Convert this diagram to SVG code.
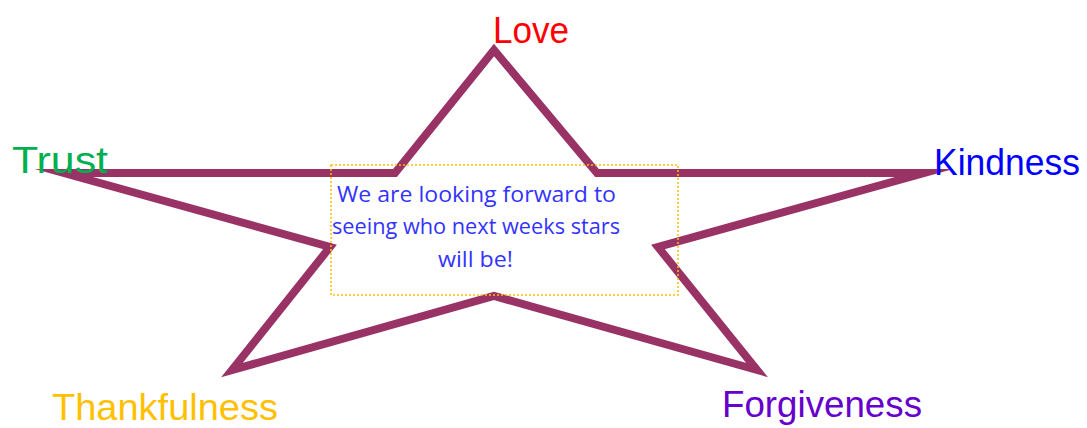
<svg xmlns="http://www.w3.org/2000/svg" width="1087" height="428" viewBox="0 0 1087 428">
<style>
.lbl{font-family:"Liberation Sans","DejaVu Sans",sans-serif;font-size:37px}
.body{font-family:"Open Sans","Liberation Sans",sans-serif;font-size:21px;fill:#3333ff}
.star{fill:none;stroke:#993366;stroke-width:8;stroke-linejoin:miter;stroke-miterlimit:20}
.box{fill:none;stroke:#ffc000;stroke-width:1.5;stroke-dasharray:2 2}
</style>
<rect width="1087" height="428" fill="#ffffff"/>
<g id="star">
<polygon class="star" points="494,50 395,173 64,173 330,247 232,370 494,296 757,370 658,247 924,173 597,173"/>
</g>
<g id="message">
<rect class="box" x="331" y="165" width="347" height="130"/>
<text class="body" x="337" y="202" textLength="279" lengthAdjust="spacingAndGlyphs">We are looking forward to</text>
<text class="body" x="332" y="234" textLength="288" lengthAdjust="spacingAndGlyphs">seeing who next weeks stars</text>
<text class="body" x="438" y="267" textLength="75" lengthAdjust="spacingAndGlyphs">will be!</text>
</g>
<g id="love"><text class="lbl" x="493" y="43" fill="#ff0000" textLength="76" lengthAdjust="spacingAndGlyphs">Love</text></g>
<g id="trust"><text class="lbl" x="12" y="173" fill="#00b050" textLength="96" lengthAdjust="spacingAndGlyphs">Trust</text></g>
<g id="kindness"><text class="lbl" x="934" y="175" fill="#0000ff" textLength="146" lengthAdjust="spacingAndGlyphs" font-size="36">Kindness</text></g>
<g id="thankfulness"><text class="lbl" x="52" y="420" fill="#ffc000" textLength="226" lengthAdjust="spacingAndGlyphs">Thankfulness</text></g>
<g id="forgiveness"><text class="lbl" x="722" y="417" fill="#6600cc" textLength="200" lengthAdjust="spacingAndGlyphs">Forgiveness</text></g>
</svg>
